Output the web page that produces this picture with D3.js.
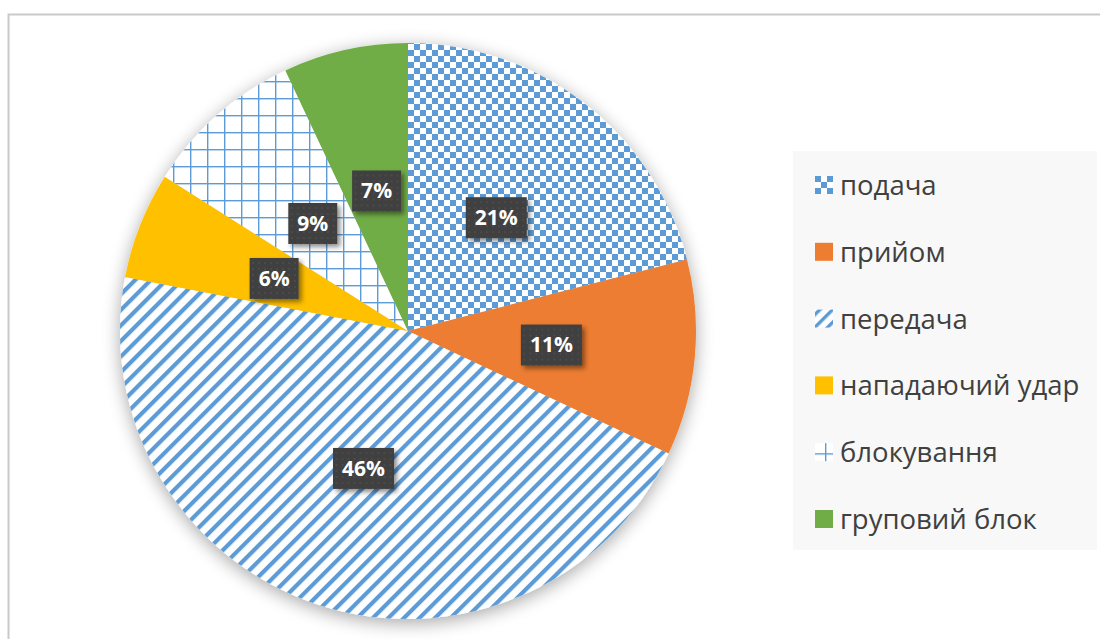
<!DOCTYPE html>
<html>
<head>
<meta charset="utf-8">
<script src="https://cdn.jsdelivr.net/npm/d3@7"></script>
<style>
  body { margin: 0; background: #fff; }
  svg { display: block; font-family: "Open Sans", "Noto Sans", sans-serif; }
</style>
</head>
<body>
<div id="chart"></div>
<script>
var categories = ["подача", "прийом", "передача", "нападаючий удар", "блокування", "груповий блок"];
var values = [21, 11, 46, 6, 9, 7];
var labels = ["21%", "11%", "46%", "6%", "9%", "7%"];
var fills = ["url(#checker)", "#ed7d31", "url(#stripes)", "#ffc000", "url(#grid)", "#70ad47"];
var legendFills = ["url(#checkerL)", "#ed7d31", "url(#stripesL)", "#ffc000", "url(#gridL)", "#70ad47"];

var width = 1100, height = 639;
var cx = 408, cy = 331, radius = 288;

var svg = d3.select("#chart").append("svg")
    .attr("width", width)
    .attr("height", height);

var defs = svg.append("defs");

// patterns
function checker(id, ox, oy) {
    var p = defs.append("pattern").attr("id", id)
        .attr("patternUnits", "userSpaceOnUse")
        .attr("x", ox).attr("y", oy)
        .attr("width", 12).attr("height", 12);
    p.append("rect").attr("width", 12).attr("height", 12).attr("fill", "#fff");
    p.append("rect").attr("width", 6).attr("height", 6).attr("fill", "#5b9bd5");
    p.append("rect").attr("x", 6).attr("y", 6).attr("width", 6).attr("height", 6).attr("fill", "#5b9bd5");
}
function stripes(id, ox, oy, s) {
    var p = defs.append("pattern").attr("id", id)
        .attr("patternUnits", "userSpaceOnUse")
        .attr("x", ox).attr("y", oy)
        .attr("width", s).attr("height", s)
        .attr("patternTransform", "rotate(45)");
    p.append("rect").attr("width", s).attr("height", s).attr("fill", "#fff");
    p.append("rect").attr("width", s * 0.38).attr("height", s).attr("fill", "#5b9bd5");
}
function grid(id, ox, oy, size) {
    var p = defs.append("pattern").attr("id", id)
        .attr("patternUnits", "userSpaceOnUse")
        .attr("x", ox).attr("y", oy)
        .attr("width", size).attr("height", size);
    p.append("rect").attr("width", size).attr("height", size).attr("fill", "#fff");
    p.append("rect").attr("width", size).attr("height", 1.4).attr("fill", "#5b9bd5");
    p.append("rect").attr("width", 1.4).attr("height", size).attr("fill", "#5b9bd5");
}
checker("checker", cx, 43);
stripes("stripes", 0, 0, 11);
grid("grid", 3, 5, 17);

// label dots
var dots = defs.append("pattern").attr("id", "dots")
    .attr("patternUnits", "userSpaceOnUse")
    .attr("width", 6).attr("height", 6);
dots.append("rect").attr("width", 6).attr("height", 6).attr("fill", "#3f3f3f");
dots.append("rect").attr("x", 2).attr("y", 2).attr("width", 2).attr("height", 2).attr("fill", "#4b4b4b");

var pieShadow = defs.append("filter").attr("id", "pieShadow")
    .attr("x", "-20%").attr("y", "-20%").attr("width", "140%").attr("height", "140%");
pieShadow.append("feGaussianBlur").attr("in", "SourceAlpha").attr("stdDeviation", 9);
pieShadow.append("feOffset").attr("dx", 0).attr("dy", 4).attr("result", "b");
pieShadow.append("feComponentTransfer").append("feFuncA").attr("type", "linear").attr("slope", 0.35);
var m = pieShadow.append("feMerge");
m.append("feMergeNode");
m.append("feMergeNode").attr("in", "SourceGraphic");

var boxShadow = defs.append("filter").attr("id", "boxShadow")
    .attr("x", "-30%").attr("y", "-30%").attr("width", "160%").attr("height", "170%");
boxShadow.append("feGaussianBlur").attr("in", "SourceAlpha").attr("stdDeviation", 2.5);
boxShadow.append("feOffset").attr("dx", 3).attr("dy", 3);
boxShadow.append("feComponentTransfer").append("feFuncA").attr("type", "linear").attr("slope", 0.45);
var m2 = boxShadow.append("feMerge");
m2.append("feMergeNode");
m2.append("feMergeNode").attr("in", "SourceGraphic");

// outer frame
svg.append("rect")
    .attr("x", 8.5).attr("y", 14.5)
    .attr("width", width + 20).attr("height", height + 20)
    .attr("fill", "none")
    .attr("stroke", "#c9c9c9")
    .attr("stroke-width", 2);

// pie
var pie = d3.pie().sort(null).value(function (d) { return d; });
var arcs = pie(values);
var arc = d3.arc().innerRadius(0).outerRadius(radius);
var labelArc = d3.arc().innerRadius(radius * 0.5).outerRadius(radius * 0.5);

var pieGroup = svg.append("g")
    .attr("transform", "translate(" + cx + "," + cy + ")");

var slices = pieGroup.append("g").attr("filter", "url(#pieShadow)");
slices.selectAll("path")
    .data(arcs)
    .enter().append("path")
    .attr("d", arc)
    .attr("fill", function (d, i) { return fills[i]; });

// data labels
var lab = pieGroup.selectAll("g.lab")
    .data(arcs)
    .enter().append("g")
    .attr("class", "lab")
    .attr("transform", function (d) { return "translate(" + labelArc.centroid(d) + ")"; });

lab.append("text")
    .attr("text-anchor", "middle")
    .attr("dy", "0.36em")
    .attr("font-size", 21)
    .attr("font-weight", "bold")
    .attr("fill", "#fff")
    .text(function (d, i) { return labels[i]; });

lab.each(function () {
    var g = d3.select(this);
    var t = g.select("text");
    var w = t.node().getComputedTextLength();
    g.insert("rect", "text")
        .attr("x", -w / 2 - 9)
        .attr("y", -20)
        .attr("width", w + 18)
        .attr("height", 41)
        .attr("fill", "url(#dots)")
        .attr("filter", "url(#boxShadow)");
});

// legend
var legX = 793, legY = 151;
svg.append("rect")
    .attr("x", legX).attr("y", legY)
    .attr("width", 304).attr("height", 399)
    .attr("fill", "#f8f8f8");

var legendY = d3.scalePoint()
    .domain(categories)
    .range([185, 519]);

categories.forEach(function (c, i) {
    var y = legendY(c);
    if (i === 0) checker("checkerL", 815, y - 9);
    if (i === 2) stripes("stripesL", 815, y - 9, 9);
    if (i === 4) grid("gridL", 815 - 9 + 1, y - 9 - 9 + 1, 18);
});

var leg = svg.selectAll("g.leg")
    .data(categories)
    .enter().append("g")
    .attr("class", "leg");

leg.append("rect")
    .attr("x", 815)
    .attr("y", function (d) { return legendY(d) - 9; })
    .attr("width", 18).attr("height", 18)
    .attr("fill", function (d, i) { return legendFills[i]; });

leg.append("text")
    .attr("x", 840)
    .attr("y", function (d) { return legendY(d); })
    .attr("dy", "0.36em")
    .attr("font-size", 27.5)
    .attr("fill", "#404040")
    .text(function (d) { return d; });
</script>
</body>
</html>
